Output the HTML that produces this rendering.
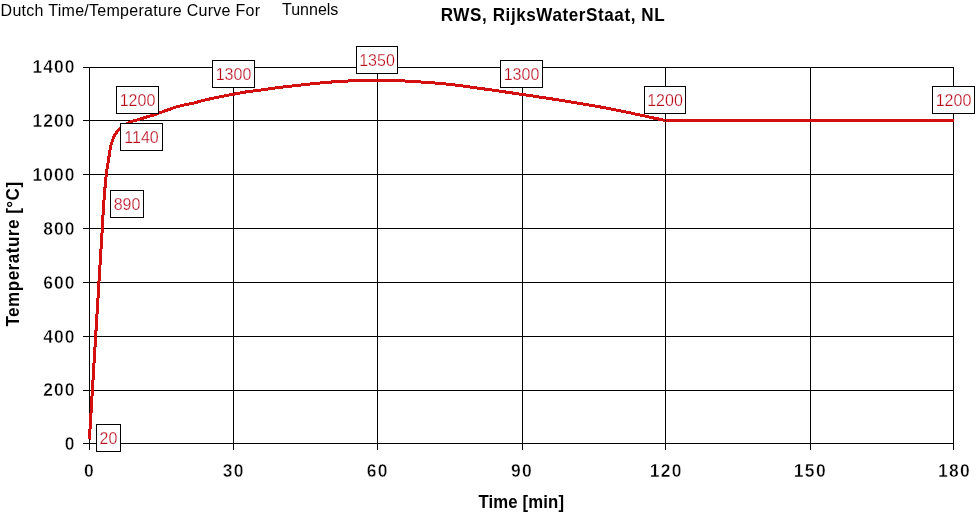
<!DOCTYPE html>
<html><head><meta charset="utf-8"><title>Dutch Time/Temperature Curve For Tunnels - RWS</title>
<style>
html,body{margin:0;padding:0;background:#fff;}
body{width:976px;height:518px;overflow:hidden;position:relative;}
svg{display:block;}
text{font-family:"Liberation Sans",Arial,sans-serif;}
</style></head>
<body>
<svg width="976" height="518" viewBox="0 0 976 518">
  <rect width="976" height="518" fill="#fff"/>
  <g font-size="16" fill="#000">
    <text x="0.6" y="15.6" letter-spacing="0.28">Dutch Time/Temperature Curve For</text>
    <text x="282" y="14.6">Tunnels</text>
  </g>
  <text transform="translate(553 20.7) scale(0.95 1)" text-anchor="middle" font-size="18" font-weight="bold" stroke="#fff" stroke-width="0" letter-spacing="0.6">RWS, RijksWaterStaat, NL</text>
  <g stroke="#000" stroke-width="1" shape-rendering="crispEdges">
    <line x1="89.5" y1="67" x2="89.5" y2="450"/>
    <line x1="233.5" y1="67" x2="233.5" y2="450"/>
    <line x1="377.5" y1="67" x2="377.5" y2="450"/>
    <line x1="522.5" y1="67" x2="522.5" y2="450"/>
    <line x1="665.5" y1="67" x2="665.5" y2="450"/>
    <line x1="810.5" y1="67" x2="810.5" y2="450"/>
    <line x1="953.5" y1="67" x2="953.5" y2="450"/>
    <line x1="83" y1="67.5" x2="954" y2="67.5"/>
    <line x1="83" y1="120.5" x2="954" y2="120.5"/>
    <line x1="83" y1="174.5" x2="954" y2="174.5"/>
    <line x1="83" y1="228.5" x2="954" y2="228.5"/>
    <line x1="83" y1="282.5" x2="954" y2="282.5"/>
    <line x1="83" y1="336.5" x2="954" y2="336.5"/>
    <line x1="83" y1="390.5" x2="954" y2="390.5"/>
    <line x1="83" y1="443.5" x2="954" y2="443.5"/>
  </g>
  <g font-size="17.5" font-weight="bold" stroke="#fff" stroke-width="0.4" fill="#000" letter-spacing="1.02" text-anchor="end">
    <text x="75.5" y="72.55">1400</text>
    <text x="75.5" y="126.54">1200</text>
    <text x="75.5" y="180.53">1000</text>
    <text x="75.5" y="234.52">800</text>
    <text x="75.5" y="288.51">600</text>
    <text x="75.5" y="342.50">400</text>
    <text x="75.5" y="396.49">200</text>
    <text x="75.5" y="450.48">0</text>
  </g>
  <g font-size="17.5" font-weight="bold" stroke="#fff" stroke-width="0.4" fill="#000" letter-spacing="1.32" text-anchor="middle">
    <text x="89.51" y="477.0">0</text>
    <text x="233.69" y="477.0">30</text>
    <text x="377.87" y="477.0">60</text>
    <text x="522.05" y="477.0">90</text>
    <text x="666.23" y="477.0">120</text>
    <text x="810.41" y="477.0">150</text>
    <text x="954.59" y="477.0">180</text>
  </g>
  <text transform="translate(521.3 507.9) scale(0.93 1)" text-anchor="middle" font-size="18" font-weight="bold" stroke="#fff" stroke-width="0" letter-spacing="0.15">Time [min]</text>
  <text transform="translate(18.9 254) rotate(-90) scale(0.95 1)" text-anchor="middle" font-size="18" font-weight="bold" stroke="#fff" stroke-width="0" letter-spacing="0.5">Temperature [°C]</text>
  <path d="M89.4,439.5 C90.0,429.6 91.8,399.8 93.0,380.0 C94.2,360.2 95.4,340.7 96.6,321.0 C97.8,301.3 99.3,276.7 100.2,262.0 C101.1,247.3 101.4,242.7 102.0,233.0 C102.5,223.3 103.2,211.3 103.7,204.0 C104.2,196.7 104.5,193.9 104.9,189.0 C105.3,184.1 105.7,179.1 106.3,174.3 C106.9,169.5 107.8,164.6 108.5,160.0 C109.2,155.4 109.8,150.5 110.6,146.8 C111.4,143.1 112.5,140.2 113.5,137.8 C114.5,135.4 115.5,134.0 116.6,132.4 C117.7,130.8 118.8,129.6 120.1,128.4 C121.4,127.2 122.8,126.1 124.5,125.0 C126.2,123.9 127.7,122.9 130.0,122.0 C132.3,121.1 135.5,120.4 138.2,119.6 C140.9,118.8 143.7,117.9 146.4,117.1 C149.1,116.3 151.9,115.5 154.6,114.6 C157.3,113.7 160.2,112.6 162.8,111.7 C165.4,110.8 167.4,110.0 170.0,109.1 C172.6,108.2 175.5,107.2 178.2,106.4 C180.9,105.6 184.0,105.0 186.4,104.5 C188.8,104.0 190.4,103.9 192.5,103.4 C194.6,102.9 196.6,102.3 198.7,101.7 C200.8,101.1 202.6,100.6 205.0,100.0 C207.4,99.4 210.5,98.8 213.2,98.2 C215.9,97.6 218.7,97.0 221.4,96.5 C224.1,96.0 226.9,95.4 229.6,94.9 C232.3,94.4 235.2,93.9 237.8,93.4 C240.4,92.9 241.3,92.6 245.0,92.1 C248.7,91.5 254.2,90.9 260.0,90.1 C265.8,89.3 273.3,88.2 280.0,87.4 C286.7,86.6 293.3,85.8 300.0,85.1 C306.7,84.4 313.3,83.6 320.0,83.0 C326.7,82.4 333.3,81.8 340.0,81.4 C346.7,81.0 353.8,80.8 360.0,80.6 C366.2,80.4 371.2,80.4 377.0,80.4 C382.8,80.4 389.8,80.5 395.0,80.6 C400.2,80.7 403.0,80.9 408.0,81.2 C413.0,81.5 419.7,81.9 425.0,82.3 C430.3,82.7 434.2,82.9 440.0,83.4 C445.8,84.0 453.3,84.8 460.0,85.6 C466.7,86.4 473.3,87.5 480.0,88.4 C486.7,89.3 493.3,90.2 500.0,91.2 C506.7,92.2 513.3,93.1 520.0,94.1 C526.7,95.1 533.3,96.1 540.0,97.1 C546.7,98.1 553.3,99.1 560.0,100.2 C566.7,101.3 573.3,102.4 580.0,103.5 C586.7,104.6 593.3,105.7 600.0,106.9 C606.7,108.1 613.3,109.5 620.0,110.8 C626.7,112.1 634.2,113.8 640.0,115.0 C645.8,116.2 650.8,117.4 655.0,118.3 C659.2,119.2 663.8,120.1 665.5,120.5 L953.6,120.5" fill="none" stroke="#d40f0f" stroke-width="3" stroke-linejoin="round" shape-rendering="crispEdges"/>
  <g fill="#fff" stroke="#000" stroke-width="1" shape-rendering="crispEdges">
    <rect x="96.5" y="424.5" width="24" height="27"/>
    <rect x="110.5" y="190.5" width="33" height="27"/>
    <rect x="120.5" y="123.5" width="42" height="27"/>
    <rect x="116.5" y="86.5" width="42" height="27"/>
    <rect x="212.5" y="60.5" width="42" height="27"/>
    <rect x="356.5" y="46.5" width="41" height="27"/>
    <rect x="500.5" y="60.5" width="42" height="27"/>
    <rect x="644.5" y="86.5" width="41" height="27"/>
    <rect x="932.5" y="86.5" width="42" height="27"/>
  </g>
  <g font-size="16" text-anchor="middle" letter-spacing="0" fill="#b80c1c" stroke="#fff" stroke-width="0.25">
    <text x="108.5" y="443.7">20</text>
    <text x="127.0" y="209.7">890</text>
    <text x="141.5" y="142.7">1140</text>
    <text x="137.5" y="105.7">1200</text>
    <text x="233.5" y="79.7">1300</text>
    <text x="377.0" y="65.7">1350</text>
    <text x="521.5" y="79.7">1300</text>
    <text x="665.0" y="105.7">1200</text>
    <text x="953.5" y="105.7">1200</text>
  </g>
</svg>
</body></html>
